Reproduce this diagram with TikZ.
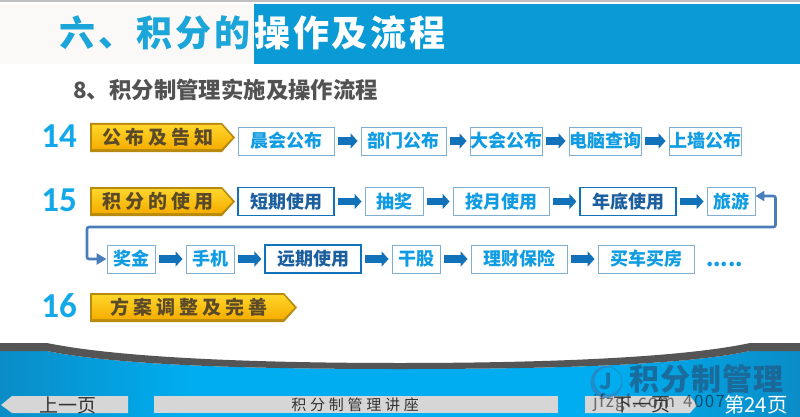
\documentclass[tikz,border=0pt]{standalone}
\usepackage{fontspec}
\usetikzlibrary{arrows.meta}
\setmainfont{Liberation Sans}
\newfontfamily\cjk{Noto Sans CJK SC}
\newfontfamily\digitfont{Carlito}
\newcommand{\fs}[1]{\fontsize{#1}{#1}\selectfont}
\definecolor{tblue}{HTML}{1BA5D8}
\definecolor{bandblue}{HTML}{0A9BD6}
\definecolor{txtblue}{HTML}{109CE2}
\definecolor{deepblue}{HTML}{1B5F9E}
\definecolor{arrblue}{HTML}{1171B9}
\definecolor{lineblue}{HTML}{4A7EBB}
\definecolor{golddark}{HTML}{B98A10}
\definecolor{lightb}{HTML}{7FAFD3}
\definecolor{numc}{HTML}{12A8EA}
\definecolor{goldtxt}{HTML}{5B4A2A}
\definecolor{navgray}{HTML}{D6D6D6}
\definecolor{goldtop}{HTML}{FFD52A}
\definecolor{goldbot}{HTML}{F5AE00}
\definecolor{stripc}{HTML}{FBF9F8}
\definecolor{bandD}{HTML}{555555}
\definecolor{deepW}{HTML}{1F5F8C}
\definecolor{logoc}{HTML}{2F80BE}
\pgfdeclarehorizontalshading{footband}{100bp}{
  rgb(0bp)=(0.04,0.55,0.78);
  rgb(25bp)=(0.04,0.55,0.78);
  rgb(37bp)=(0,0.68,0.94);
  rgb(63bp)=(0,0.68,0.94);
  rgb(75bp)=(0.04,0.55,0.78);
  rgb(100bp)=(0.04,0.55,0.78)}
\tikzset{
  lightbox/.style={draw=lightb, line width=0.9pt, fill=white, minimum height=28pt, inner sep=0pt, text=txtblue, font=\cjk\bfseries\fs{18}},
  darkbox/.style={draw=arrblue, line width=1.2pt, fill=white, minimum height=28pt, inner sep=0pt, text=deepblue, font=\cjk\bfseries\fs{18}},
  flow/.style={draw=arrblue, line width=7.5pt, shorten <=3.5pt, shorten >=3pt, -{Triangle[width=15pt,length=7pt]}},
  numlabel/.style={text=numc, font=\digitfont\bfseries\fs{35}, inner sep=0pt},
  goldtext/.style={text=goldtxt, font=\cjk\bfseries\fs{19}\addfontfeature{LetterSpace=21}, inner sep=0pt},
  navtext/.style={text=black!80, font=\cjk\fs{19}, inner sep=0pt},
  navbar/.style={fill=navgray, draw=none}
}
\newcommand{\goldarrow}[4]{% x1, tipstart, y1, y2
  \path[fill=golddark] (#1,#3) -- (#2,#3) -- ({#2+13},{(#3+#4)/2}) -- (#2,#4) -- (#1,#4) -- cycle;
  \path[top color=goldtop,bottom color=goldbot] ({#1+2},{#3+2}) -- ({#2-0.5},{#3+2}) -- ({#2+10.5},{(#3+#4)/2}) -- ({#2-0.5},{#4-3}) -- ({#1+2},{#4-3}) -- cycle;
}
\begin{document}
\begin{tikzpicture}[x=1pt,y=-1pt]
\useasboundingbox (0,0) rectangle (800,417);
\fill[white] (0,0) rectangle (800,417);
% top strip
\fill[black!25] (0,0) rectangle (800,2);
\fill[stripc] (0,4) rectangle (254,64);
\fill[bandblue] (254,4) rectangle (800,64);
\node[inner sep=0pt, text=tblue, font=\cjk\bfseries\fs{36}\addfontfeature{LetterSpace=8}, anchor=west] (titleA) at (59,33) {六、积分的};
\node[inner sep=0pt, text=white, font=\cjk\bfseries\fs{36}\addfontfeature{LetterSpace=8}, anchor=west] (titleB) at (254,33) {操作及流程};
\node[inner sep=0pt, text=black!68, font=\cjk\bfseries\fs{22.4}, anchor=west] (sub) at (73,90) {8、积分制管理实施及操作流程};
% numbers
\node[numlabel] (n14) at (59,136) {14};
\node[numlabel] (n15) at (59,200) {15};
\node[numlabel] (n16) at (59,306) {16};
% gold arrows
\goldarrow{90}{222}{123}{152}
\goldarrow{90}{222}{187}{216}
\goldarrow{90}{284}{293}{322}
\node[goldtext] (g14) at (158,137) {公布及告知};
\node[goldtext] (g15) at (158,201) {积分的使用};
\node[goldtext] (g16) at (189,307) {方案调整及完善};
% row 1
\node[lightbox, minimum width=96pt] (a1) at (286,141) {晨会公布};
\node[lightbox, minimum width=85pt] (a2) at (403.5,141) {部门公布};
\node[lightbox, minimum width=72pt] (a3) at (506,141) {大会公布};
\node[lightbox, minimum width=72pt] (a4) at (605,141) {电脑查询};
\node[lightbox, minimum width=72pt] (a5) at (705,141) {上墙公布};
\foreach \p/\q in {a1/a2,a2/a3,a3/a4,a4/a5} \draw[flow] (\p) -- (\q);
% row 2
\node[darkbox, minimum width=96pt] (b1) at (286,201.5) {短期使用};
\node[lightbox, minimum width=58pt] (b2) at (394,201.5) {抽奖};
\node[lightbox, minimum width=96pt] (b3) at (501,201.5) {按月使用};
\node[darkbox, minimum width=96pt] (b4) at (628,201.5) {年底使用};
\node[lightbox, minimum width=48pt] (b5) at (731,201.5) {旅游};
\foreach \p/\q in {b1/b2,b2/b3,b3/b4,b4/b5} \draw[flow] (\p) -- (\q);
% row 3
\node[lightbox, minimum width=48pt] (c1) at (131,259) {奖金};
\node[lightbox, minimum width=48pt] (c2) at (210,259) {手机};
\node[darkbox, minimum width=96pt] (c3) at (313,259) {远期使用};
\node[lightbox, minimum width=48pt] (c4) at (416,259) {干股};
\node[lightbox, minimum width=96pt] (c5) at (519,259) {理财保险};
\node[lightbox, minimum width=96pt] (c6) at (646,259) {买车买房};
\node[inner sep=0pt, text=txtblue, font=\cjk\bfseries\fs{21}] (c7) at (724.5,264.5) {.....};
\foreach \p/\q in {c1/c2,c2/c3,c3/c4,c4/c5,c5/c6} \draw[flow] (\p) -- (\q);
% return connector
\draw[draw=lineblue, line width=2.6pt, {Triangle[width=10pt,length=9pt]}-{Triangle[width=11pt,length=10pt]}, rounded corners=2pt]
  ([yshift=5.5pt]b5.east) -- (775.5,196) -- (775.5,227) -- (87,227) -- (87,259) -- (c1.west);
% footer
\shade[shading=footband]
  (0,351) -- (47,351) .. controls (120,366) and (260,369) .. (400,369) .. controls (540,369) and (680,366) .. (750,351) -- (800,351) -- (800,417) -- (0,417) -- cycle;
\fill[bandD] (0,343) -- (47,343) .. controls (120,358) and (260,363) .. (400,363) .. controls (540,363) and (680,358) .. (750,343) -- (800,343) -- (800,351) -- (750,351) .. controls (680,366) and (540,369) .. (400,369) .. controls (260,369) and (120,366) .. (47,351) -- (0,351) -- cycle;
\path[navbar] (1,405) -- (12,396) -- (128,396) -- (128,413) -- (12,413) -- cycle;
\path[navbar] (154,396) rectangle (558,413);
\path[navbar] (585,396) -- (690,396) -- (697,405) -- (690,413) -- (585,413) -- cycle;
% watermark
\fill[logoc, opacity=0.75, even odd rule] (606.5,382) circle (16pt) (608,381) circle (13.5pt);
\node[inner sep=0pt, text=deepW, opacity=0.7, font=\cjk\bfseries\fs{22}] (wmJ) at (606,381) {J};
\node[inner sep=0pt, text=deepW, opacity=0.8, font=\cjk\bfseries\fs{30}\addfontfeature{LetterSpace=4}, anchor=west] (wm) at (629,379) {积分制管理};
\node[inner sep=0pt, text=black, opacity=0.5, font=\cjk\fs{17}\addfontfeature{LetterSpace=8}, anchor=west] (wm2) at (593,403) {jfzgl.com\hspace{8pt}4007};
\node[navtext] (prev) at (68,405) {上一页};
\node[navtext, font=\cjk\fs{15}\addfontfeature{LetterSpace=25}] (mid) at (355,405) {积分制管理讲座};
\node[navtext] (next) at (642,405) {下一页};
\node[inner sep=0pt, text=white, font=\cjk\fs{20.5}, anchor=east] (pg) at (788,405) {第24页};
\end{tikzpicture}
\end{document}
